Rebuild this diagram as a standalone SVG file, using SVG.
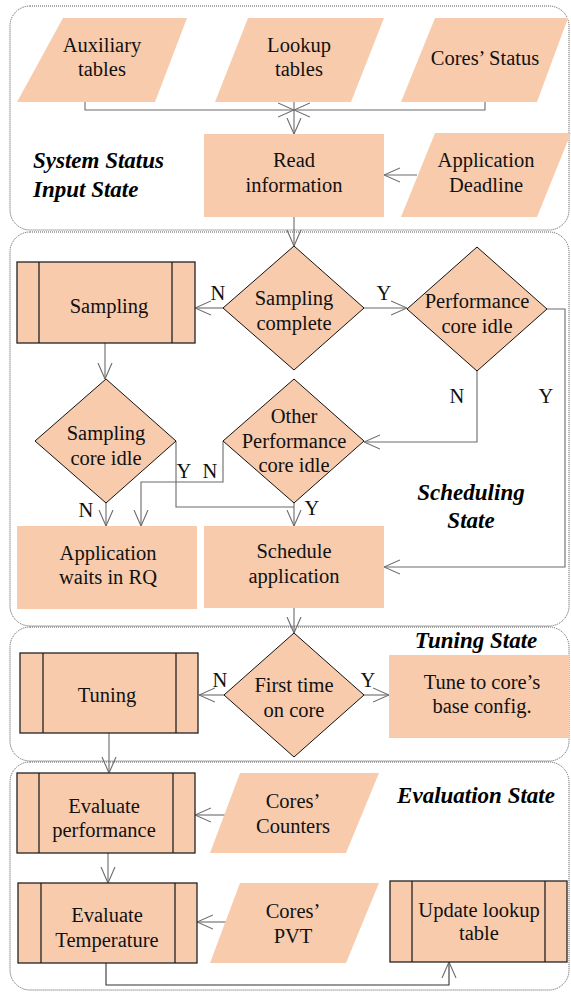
<svg xmlns="http://www.w3.org/2000/svg" width="571" height="992" viewBox="0 0 571 992">
<style>
.state{fill:#fff;stroke:#555;stroke-width:1;stroke-dasharray:1 1}
.box{fill:#F8CBAD;stroke:none}
.sub{fill:#F8CBAD;stroke:#222;stroke-width:1.3}
.subl{fill:none;stroke:#222;stroke-width:1.3}
.dia{fill:#F8CBAD;stroke:#111;stroke-width:1}
.io{fill:#F8CBAD;stroke:none}
.t{font-family:'Liberation Serif','Times New Roman',serif;font-size:20.5px;fill:#111;text-anchor:middle}
.st{font-family:'Liberation Serif','Times New Roman',serif;font-size:23px;font-weight:bold;font-style:italic;fill:#000}
.c{fill:none;stroke:#6b6b6b;stroke-width:1.1}
.cd{fill:none;stroke:#333;stroke-width:1.1}
</style>
<defs>
<marker id="arr" viewBox="0 0 16 16" refX="16" refY="8" markerWidth="16" markerHeight="16" markerUnits="userSpaceOnUse" orient="auto">
<path d="M0,1 L16,8 L0,15" fill="none" stroke="#6b6b6b" stroke-width="1.1"/>
</marker>
</defs>

<g id="state-system-status">
<rect class="state" x="10" y="6" width="559" height="224" rx="20"/>
<text class="st" x="33" y="168">System Status</text>
<text class="st" x="33" y="197">Input State</text>
</g>
<g id="state-scheduling">
<rect class="state" x="10" y="232" width="559" height="394" rx="20"/>
<text class="st" x="471" y="500" text-anchor="middle">Scheduling</text>
<text class="st" x="471" y="528" text-anchor="middle">State</text>
</g>
<g id="state-tuning">
<rect class="state" x="10" y="627" width="559" height="134" rx="20"/>
<text class="st" x="476" y="648" text-anchor="middle">Tuning State</text>
</g>
<g id="state-evaluation">
<rect class="state" x="10" y="762" width="559" height="228" rx="20"/>
<text class="st" x="476" y="803" text-anchor="middle">Evaluation State</text>
</g>

<g id="connectors">
<path class="c" d="M85,102 V110 H294" marker-end="url(#arr)"/>
<path class="c" d="M485,102 V110 H294" marker-end="url(#arr)"/>
<path class="c" d="M294,102 V134" marker-end="url(#arr)"/>
<path class="c" d="M417,175 H384" marker-end="url(#arr)"/>
<path class="c" d="M294,217 V246" marker-end="url(#arr)"/>
<path class="c" d="M223,308 H195" marker-end="url(#arr)"/>
<path class="c" d="M364,308 H407" marker-end="url(#arr)"/>
<path class="c" d="M547,309 H565 V567 H384" marker-end="url(#arr)"/>
<path class="c" d="M477,371 V442 H364" marker-end="url(#arr)"/>
<path class="c" d="M105,343 V379" marker-end="url(#arr)"/>
<path class="c" d="M106,503 V526" marker-end="url(#arr)"/>
<path class="c" d="M176,441 V507 H294"/>
<path class="c" d="M294,503 V526" marker-end="url(#arr)"/>
<path class="c" d="M223,441 V482 H141 V526" marker-end="url(#arr)"/>
<path class="c" d="M294,608 V633" marker-end="url(#arr)"/>
<path class="c" d="M224,695 H199" marker-end="url(#arr)"/>
<path class="c" d="M364,695 H389" marker-end="url(#arr)"/>
<path class="c" d="M109,733 V773" marker-end="url(#arr)"/>
<path class="c" d="M226,815 H195" marker-end="url(#arr)"/>
<path class="c" d="M108,853 V883" marker-end="url(#arr)"/>
<path class="c" d="M226,922 H197" marker-end="url(#arr)"/>
<path class="cd" d="M106,963 V985 H449 V962" marker-end="url(#arr)"/>
<text class="t" x="218" y="300">N</text>
<text class="t" x="384" y="300">Y</text>
<text class="t" x="457" y="403">N</text>
<text class="t" x="546" y="403">Y</text>
<text class="t" x="184" y="478">Y</text>
<text class="t" x="210" y="478">N</text>
<text class="t" x="86" y="517">N</text>
<text class="t" x="312" y="515">Y</text>
<text class="t" x="220" y="687">N</text>
<text class="t" x="368" y="687">Y</text>
</g>

<g id="auxiliary-tables">
<polygon class="io" points="63,18 187,18 155,102 17,102"/>
<text class="t" x="102" y="52">Auxiliary</text>
<text class="t" x="102" y="76">tables</text>
</g>
<g id="lookup-tables">
<polygon class="io" points="248,18 384,18 351,102 215,102"/>
<text class="t" x="299" y="52">Lookup</text>
<text class="t" x="299" y="76">tables</text>
</g>
<g id="cores-status">
<polygon class="io" points="435,18 568,18 537,102 401,102"/>
<text class="t" x="485" y="65">Cores’ Status</text>
</g>
<g id="read-information">
<rect class="box" x="204" y="134" width="180" height="83"/>
<text class="t" x="294" y="167">Read</text>
<text class="t" x="294" y="192">information</text>
</g>
<g id="application-deadline">
<polygon class="io" points="435,133 571,133 537,217 401,217"/>
<text class="t" x="486" y="167">Application</text>
<text class="t" x="486" y="192">Deadline</text>
</g>

<g id="sampling">
<rect class="sub" x="17" y="262" width="178" height="81"/>
<path class="subl" d="M39,262 V343 M172,262 V343"/>
<text class="t" x="109" y="313">Sampling</text>
</g>
<g id="sampling-complete">
<polygon class="dia" points="294,246 364,308 294,370 223,308"/>
<text class="t" x="294" y="305">Sampling</text>
<text class="t" x="294" y="330">complete</text>
</g>
<g id="performance-core-idle">
<polygon class="dia" points="477,247 547,309 477,371 407,309"/>
<text class="t" x="477" y="308">Performance</text>
<text class="t" x="477" y="333">core idle</text>
</g>
<g id="sampling-core-idle">
<polygon class="dia" points="106,379 176,441 106,503 35,441"/>
<text class="t" x="106" y="440">Sampling</text>
<text class="t" x="106" y="465">core idle</text>
</g>
<g id="other-performance-core-idle">
<polygon class="dia" points="294,379 364,441 294,503 223,441"/>
<text class="t" x="294" y="423">Other</text>
<text class="t" x="294" y="448">Performance</text>
<text class="t" x="294" y="472">core idle</text>
</g>
<g id="application-waits">
<rect class="box" x="17" y="526" width="180" height="83"/>
<text class="t" x="108" y="560">Application</text>
<text class="t" x="108" y="584">waits in RQ</text>
</g>
<g id="schedule-application">
<rect class="box" x="204" y="526" width="180" height="82"/>
<text class="t" x="294" y="558">Schedule</text>
<text class="t" x="294" y="583">application</text>
</g>

<g id="tuning">
<rect class="sub" x="20" y="653" width="178" height="80"/>
<path class="subl" d="M43,653 V733 M176,653 V733"/>
<text class="t" x="107" y="702">Tuning</text>
</g>
<g id="first-time-on-core">
<polygon class="dia" points="294,633 364,695 294,757 224,695"/>
<text class="t" x="294" y="692">First time</text>
<text class="t" x="294" y="717">on core</text>
</g>
<g id="tune-base-config">
<rect class="box" x="389" y="655" width="180" height="83"/>
<text class="t" x="482" y="689">Tune to core’s</text>
<text class="t" x="482" y="713">base config.</text>
</g>

<g id="evaluate-performance">
<rect class="sub" x="17" y="773" width="178" height="80"/>
<path class="subl" d="M39,773 V853 M173,773 V853"/>
<text class="t" x="104" y="813">Evaluate</text>
<text class="t" x="104" y="837">performance</text>
</g>
<g id="cores-counters">
<polygon class="io" points="240,773 379,773 346,853 210,853"/>
<text class="t" x="293" y="808">Cores’</text>
<text class="t" x="293" y="833">Counters</text>
</g>
<g id="evaluate-temperature">
<rect class="sub" x="18" y="883" width="179" height="80"/>
<path class="subl" d="M41,883 V963 M175,883 V963"/>
<text class="t" x="107" y="922">Evaluate</text>
<text class="t" x="107" y="947">Temperature</text>
</g>
<g id="cores-pvt">
<polygon class="io" points="240,883 379,883 346,963 210,963"/>
<text class="t" x="293" y="918">Cores’</text>
<text class="t" x="293" y="943">PVT</text>
</g>
<g id="update-lookup-table">
<rect class="sub" x="390" y="881" width="177" height="81"/>
<path class="subl" d="M412,881 V962 M545,881 V962"/>
<text class="t" x="479" y="917">Update lookup</text>
<text class="t" x="479" y="940">table</text>
</g>
</svg>
